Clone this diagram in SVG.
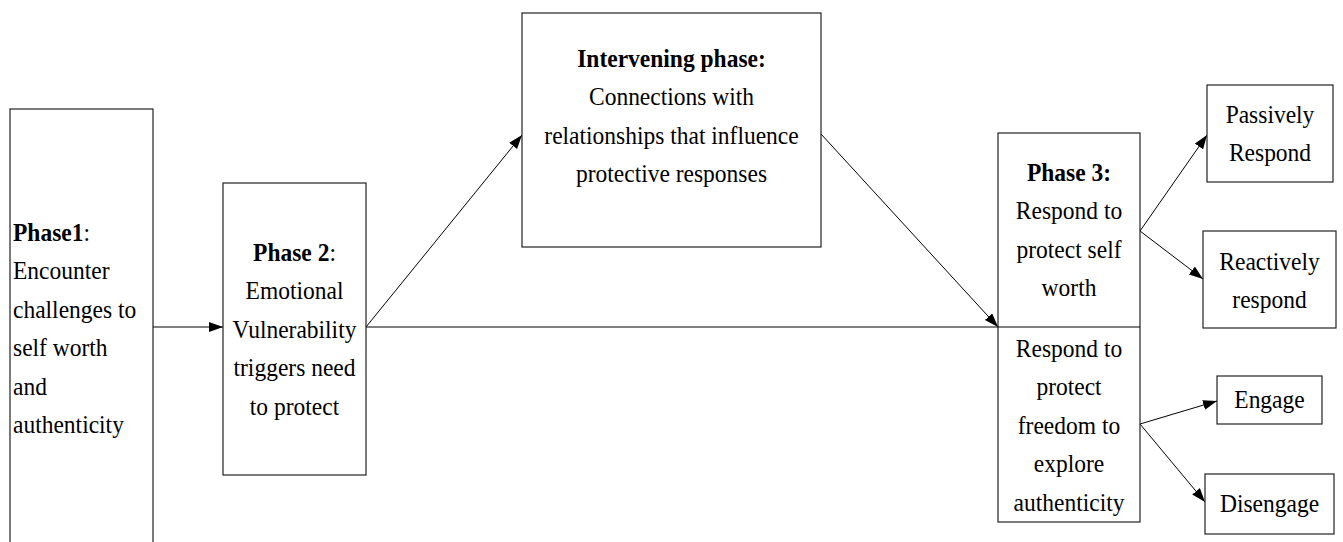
<svg xmlns="http://www.w3.org/2000/svg" width="1343" height="542" viewBox="0 0 1343 542">
<style>
.box{fill:#fff;stroke:#222;stroke-width:1.2}
.t{font-family:"Liberation Serif","Times New Roman",serif;font-size:25px;fill:#000}
.c{text-anchor:middle}
.b{font-weight:bold}
.ln{stroke:#000;stroke-width:1;fill:none}
.ar{marker-end:url(#ah)}
</style>
<defs>
<marker id="ah" markerUnits="userSpaceOnUse" markerWidth="15" markerHeight="11" refX="14" refY="5" orient="auto">
<path d="M0,0 L14,5 L0,10 z" fill="#000"/>
</marker>
</defs>
<rect width="1343" height="542" fill="#fff"/>
<g id="connectors">
<line class="ln ar" x1="153" y1="327" x2="223" y2="327"/>
<line class="ln" x1="366" y1="327" x2="998" y2="327"/>
<line class="ln ar" x1="366" y1="327" x2="522" y2="135"/>
<line class="ln ar" x1="821" y1="134" x2="998" y2="327"/>
<line class="ln ar" x1="1140" y1="231" x2="1207" y2="135"/>
<line class="ln ar" x1="1140" y1="231" x2="1203" y2="279"/>
<line class="ln ar" x1="1140" y1="424" x2="1217" y2="401"/>
<line class="ln ar" x1="1140" y1="424" x2="1205" y2="502"/>
</g>
<g id="phase1">
<rect class="box" x="10" y="109" width="143" height="450"/>
<g transform="translate(13 0) scale(0.94 1)">
<text class="t" x="0" y="241"><tspan class="b">Phase1</tspan>:</text>
<text class="t" x="0" y="279.5">Encounter</text>
<text class="t" x="0" y="318">challenges to</text>
<text class="t" x="0" y="356.5">self worth</text>
<text class="t" x="0" y="395">and</text>
<text class="t" x="0" y="433.5">authenticity</text>
</g>
</g>
<g id="phase2">
<rect class="box" x="223" y="183" width="143" height="292"/>
<g transform="translate(294.5 0) scale(0.94 1)">
<text class="t c" x="0" y="261"><tspan class="b">Phase 2</tspan>:</text>
<text class="t c" x="0" y="299.5">Emotional</text>
<text class="t c" x="0" y="338">Vulnerability</text>
<text class="t c" x="0" y="376.5">triggers need</text>
<text class="t c" x="0" y="415">to protect</text>
</g>
</g>
<g id="intervening">
<rect class="box" x="522" y="13" width="299" height="234"/>
<g transform="translate(671.5 0) scale(0.94 1)">
<text class="t c b" x="0" y="67">Intervening phase:</text>
<text class="t c" x="0" y="105.5">Connections with</text>
<text class="t c" x="0" y="144">relationships that influence</text>
<text class="t c" x="0" y="182.5">protective responses</text>
</g>
</g>
<g id="phase3">
<rect class="box" x="998" y="133" width="142" height="389"/>
<line class="ln" x1="998" y1="327" x2="1140" y2="327" stroke="#222"/>
<g transform="translate(1069 0) scale(0.94 1)">
<text class="t c b" x="0" y="181">Phase 3:</text>
<text class="t c" x="0" y="219.5">Respond to</text>
<text class="t c" x="0" y="258">protect self</text>
<text class="t c" x="0" y="296.5">worth</text>
<text class="t c" x="0" y="357">Respond to</text>
<text class="t c" x="0" y="395.5">protect</text>
<text class="t c" x="0" y="434">freedom to</text>
<text class="t c" x="0" y="472.5">explore</text>
<text class="t c" x="0" y="511">authenticity</text>
</g>
</g>
<g id="passively">
<rect class="box" x="1207" y="85" width="126" height="97"/>
<g transform="translate(1270 0) scale(0.94 1)">
<text class="t c" x="0" y="123">Passively</text>
<text class="t c" x="0" y="161.5">Respond</text>
</g>
</g>
<g id="reactively">
<rect class="box" x="1203" y="231" width="133" height="97"/>
<g transform="translate(1269.5 0) scale(0.94 1)">
<text class="t c" x="0" y="270">Reactively</text>
<text class="t c" x="0" y="308.5">respond</text>
</g>
</g>
<g id="engage">
<rect class="box" x="1217" y="376" width="105" height="48"/>
<g transform="translate(1269.5 0) scale(0.94 1)">
<text class="t c" x="0" y="408">Engage</text>
</g>
</g>
<g id="disengage">
<rect class="box" x="1205" y="474" width="129" height="60"/>
<g transform="translate(1269.5 0) scale(0.94 1)">
<text class="t c" x="0" y="512">Disengage</text>
</g>
</g>
</svg>
